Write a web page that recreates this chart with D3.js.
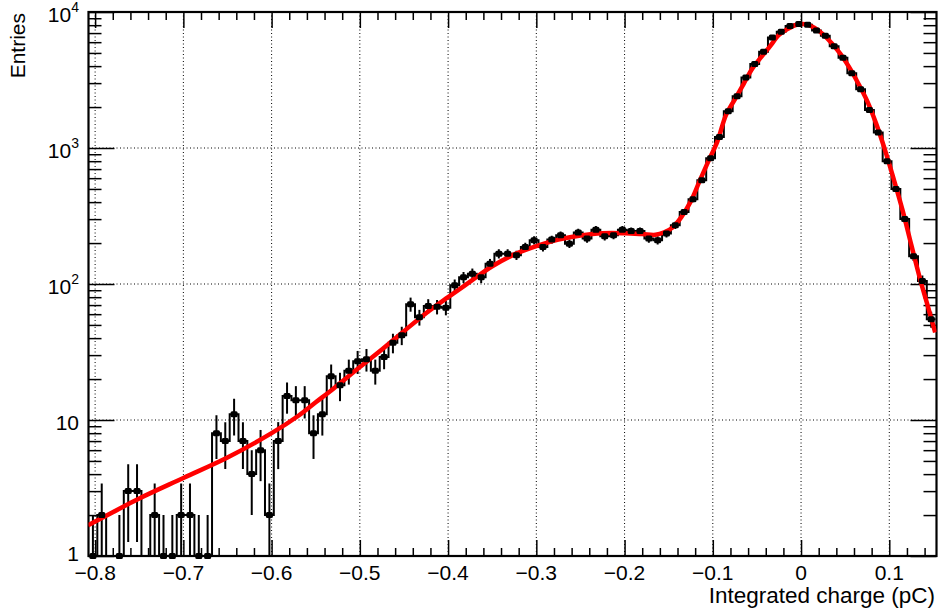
<!DOCTYPE html>
<html><head><meta charset="utf-8">
<script src="https://cdn.jsdelivr.net/npm/d3@7"></script>
<style>
body{margin:0;background:#fff;}
text{font-family:"Liberation Sans",Arial,Helvetica,sans-serif;fill:#000;}
</style>
</head><body>
<svg id="chart" width="941" height="610"></svg>
<script>
// ---- data ----
const binLow = -0.8075;
const binWidth = 0.01;
const counts = [
  1, 2, 0, 1, 3, 3, 0, 2, 1, 1,
  2, 2, 1, 1, 8, 7, 11, 7, 4, 6,
  2, 7, 15, 14, 14, 8, 11, 21, 18, 23,
  27, 28, 23, 29, 37, 42, 71, 57, 69, 68,
  67, 98, 112, 119, 112, 141, 167, 167, 163, 187,
  210, 187, 212, 228, 198, 239, 216, 251, 224, 228,
  251, 245, 245, 216, 210, 235, 270, 338, 420, 580,
  840, 1205, 1860, 2400, 3300, 4150, 5100, 6500, 7150, 7900,
  8150, 8050, 7300, 6700, 5600, 4600, 3550, 2700, 1900, 1300,
  800, 500, 300, 160, 105, 55
];
const fitX = [-0.808, -0.78, -0.75, -0.70, -0.65, -0.60, -0.57, -0.55, -0.53, -0.50,
  -0.475, -0.45, -0.425, -0.40, -0.375, -0.35, -0.325, -0.30, -0.275, -0.25,
  -0.225, -0.20, -0.18, -0.165, -0.155, -0.145, -0.135, -0.125, -0.115, -0.105,
  -0.095, -0.085, -0.075, -0.065, -0.055, -0.045, -0.035, -0.025, -0.015, -0.005,
  0.005, 0.015, 0.025, 0.035, 0.045, 0.055, 0.065, 0.075, 0.085, 0.095,
  0.105, 0.115, 0.125, 0.135, 0.145, 0.152];
const fitY = [1.68, 2.1, 2.65, 3.75, 5.3, 8.0, 10.7, 13.5, 17, 24.5,
  33, 45, 61, 80, 104, 135, 165, 190, 212, 227,
  236, 236, 233, 230, 240, 262, 315, 405, 570, 800,
  1110, 1750, 2280, 2965, 3855, 4670, 5620, 6780, 7520, 8060,
  8130, 7680, 6850, 5860, 4875, 3880, 2970, 2210, 1517, 973,
  590, 349, 193, 108, 64, 44];
const xTicks = [-0.8, -0.7, -0.6, -0.5, -0.4, -0.3, -0.2, -0.1, 0, 0.1];
const xTickLabels = ["\u22120.8", "\u22120.7", "\u22120.6", "\u22120.5", "\u22120.4", "\u22120.3", "\u22120.2", "\u22120.1", "0", "0.1"];
const yTicks = [1, 10, 100, 1000, 10000];
const yTickBase = ["1", "10", "10", "10", "10"];
const yTickExp = ["", "", "2", "3", "4"];
const xTitle = "Integrated charge (pC)";
const yTitle = "Entries";

// ---- layout ----
const L = 88.5, R = 936.5, T = 12, B = 556;
const svg = d3.select("#chart");
const x = d3.scaleLinear().domain([-0.8075, 0.1535]).range([L, R]);
const y = d3.scaleLog().domain([1, 10000]).range([B, T]);

svg.append("defs").append("clipPath").attr("id", "clip")
  .append("rect").attr("x", L).attr("y", T).attr("width", R - L).attr("height", B - T);

// grid
const grid = svg.append("g").attr("stroke", "#000").attr("stroke-width", 1)
  .attr("stroke-dasharray", "1,2.5");
xTicks.forEach(t => grid.append("line").attr("x1", x(t)).attr("x2", x(t)).attr("y1", T).attr("y2", B));
yTicks.slice(1, -1).forEach(t => grid.append("line").attr("y1", y(t)).attr("y2", y(t)).attr("x1", L).attr("x2", R));

// axes via d3 axis generators (ticks inward)
const xMinor = d3.range(-0.80, 0.1535, 0.02).map(v => +v.toFixed(3)).filter(v => !xTicks.some(t => Math.abs(t - v) < 1e-6));
function drawXAxis(gen, ty) {
  const g = svg.append("g").attr("transform", `translate(0,${ty})`).call(gen);
  g.select(".domain").remove();
  g.selectAll("text").remove();
  g.selectAll("line").attr("stroke", "#000").attr("stroke-width", 1.5);
  return g;
}
drawXAxis(d3.axisTop(x).tickValues(xTicks).tickSize(16), B);
drawXAxis(d3.axisTop(x).tickValues(xMinor).tickSize(8), B);
drawXAxis(d3.axisBottom(x).tickValues(xTicks).tickSize(16), T);
drawXAxis(d3.axisBottom(x).tickValues(xMinor).tickSize(8), T);

const yMinor = [];
[1, 10, 100, 1000].forEach(d => { for (let k = 2; k <= 9; k++) yMinor.push(d * k); });
function drawYAxis(gen, tx) {
  const g = svg.append("g").attr("transform", `translate(${tx},0)`).call(gen);
  g.select(".domain").remove();
  g.selectAll("text").remove();
  g.selectAll("line").attr("stroke", "#000").attr("stroke-width", 1.5);
}
drawYAxis(d3.axisRight(y).tickValues(yTicks).tickSize(26), L);
drawYAxis(d3.axisRight(y).tickValues(yMinor).tickSize(13), L);
drawYAxis(d3.axisLeft(y).tickValues(yTicks).tickSize(26), R);
drawYAxis(d3.axisLeft(y).tickValues(yMinor).tickSize(13), R);

// frame
svg.append("rect").attr("x", L).attr("y", T).attr("width", R - L).attr("height", B - T)
  .attr("fill", "none").attr("stroke", "#000").attr("stroke-width", 2.2);

// tick labels
xTicks.forEach((t, i) => {
  svg.append("text").attr("x", x(t)).attr("y", 580).attr("text-anchor", "middle")
    .attr("font-size", 21).text(xTickLabels[i]);
});
yTicks.forEach((t, i) => {
  const tx = svg.append("text").attr("x", 79).attr("y", y(t) + (i === 0 ? 5 : 9.5)).attr("text-anchor", "end")
    .attr("font-size", 21);
  tx.append("tspan").text(yTickBase[i]);
  if (yTickExp[i]) tx.append("tspan").attr("font-size", 14).attr("dy", -10).text(yTickExp[i]);
});

// titles
svg.append("text").attr("x", 935).attr("y", 603).attr("text-anchor", "end")
  .attr("font-size", 22.5).text(xTitle);
svg.append("text").attr("transform", "translate(25,13) rotate(-90)").attr("text-anchor", "end")
  .attr("font-size", 21).text(yTitle);

// histogram
const bins = counts.map((c, i) => ({ lo: binLow + i * binWidth, hi: binLow + (i + 1) * binWidth, mid: binLow + (i + 0.5) * binWidth, c }));
const yv = c => c > 0 ? y(c) : B + 20;
const plot = svg.append("g").attr("clip-path", "url(#clip)");
let path = "";
bins.forEach((b, i) => {
  const py = yv(b.c);
  path += (i === 0 ? "M" : "L") + x(b.lo) + "," + py + "L" + x(b.hi) + "," + py;
});
plot.append("path").attr("d", path).attr("fill", "none").attr("stroke", "#000").attr("stroke-width", 2);
bins.filter(b => b.c > 0).forEach(b => {
  const e = Math.sqrt(b.c);
  const lo = b.c - e > 0 ? y(b.c - e) : B + 20;
  plot.append("line").attr("x1", x(b.mid)).attr("x2", x(b.mid)).attr("y1", y(b.c + e)).attr("y2", lo)
    .attr("stroke", "#000").attr("stroke-width", 2);
});
svg.append("g").selectAll("rect.m").data(bins.filter(b => b.c > 0)).join("rect")
  .attr("x", b => x(b.mid) - 3.5).attr("y", b => y(b.c) - 3).attr("width", 7).attr("height", 6)
  .attr("rx", 1.5).attr("fill", "#000");

// fit
const fitPts = fitX.map((v, i) => [v, fitY[i]]);
plot.append("path").datum(fitPts)
  .attr("d", d3.line().x(d => x(d[0])).y(d => y(d[1])).curve(d3.curveCatmullRom.alpha(0.5)))
  .attr("fill", "none").attr("stroke", "#ff0000").attr("stroke-width", 4.5).attr("stroke-linejoin", "round");
</script>
</body></html>
